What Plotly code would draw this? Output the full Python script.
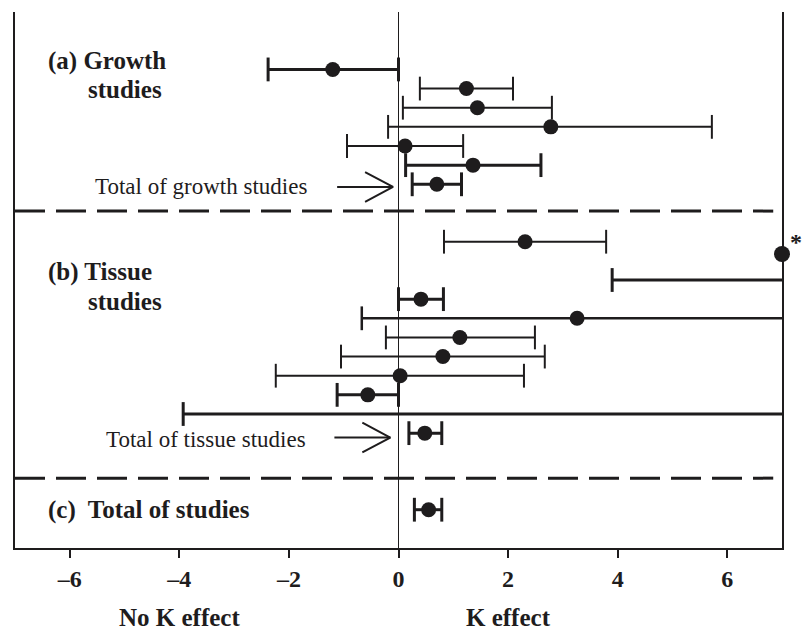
import plotly.graph_objects as go

# ---- data: point estimates with lower / upper confidence limits ----
# None as an upper limit means the interval runs past the right edge of the scale.
growth_rows = [0, 1, 2, 3, 4, 5]
growth_mean = [-1.20, 1.24, 1.44, 2.78, 0.12, 1.36]
growth_lo = [-2.38, 0.39, 0.08, -0.19, -0.94, 0.13]
growth_hi = [0.00, 2.09, 2.80, 5.72, 1.18, 2.60]
growth_width = [3, 2, 2, 2, 2, 3]

growth_total_row = [6]
growth_total_mean = [0.70]
growth_total_lo = [0.25]
growth_total_hi = [1.15]

tissue_rows = [9, 11, 12, 13, 14, 15, 16, 17, 18]
tissue_mean = [2.31, None, 0.41, 3.26, 1.12, 0.81, 0.03, -0.56, None]
tissue_lo = [0.83, 3.90, 0.00, -0.67, -0.23, -1.05, -2.24, -1.12, -3.93]
tissue_hi = [3.79, None, 0.82, None, 2.49, 2.67, 2.29, 0.00, None]
tissue_width = [2, 3, 3, 2.5, 2, 2, 2, 3, 3]

tissue_total_row = [19]
tissue_total_mean = [0.48]
tissue_total_lo = [0.19]
tissue_total_hi = [0.79]

# estimate beyond the scale, plotted on its edge and flagged with an asterisk
offscale_row = [9.64]
offscale_mean = [7.0]

all_total_row = [23]
all_total_mean = [0.55]
all_total_lo = [0.29]
all_total_hi = [0.79]

tick_vals = [-6, -4, -2, 0, 2, 4, 6]
tick_text = ["\u20136", "\u20134", "\u20132", "0", "2", "4", "6"]

X_MIN, X_MAX = -7, 7
INK = "#1e1c1d"
SERIF = "Liberation Serif"

fig = go.Figure()


def add_rows(rows, means, los, his, widths):
    for r, m, lo, hi, w in zip(rows, means, los, his, widths):
        end = X_MAX if hi is None else hi
        fig.add_trace(go.Scatter(
            x=[lo, end], y=[r, r], mode="lines",
            line=dict(color=INK, width=w), hoverinfo="skip", showlegend=False))
        caps = [lo] if hi is None else [lo, hi]
        fig.add_trace(go.Scatter(
            x=caps, y=[r] * len(caps), mode="markers",
            marker=dict(symbol="line-ns", size=17, line=dict(color=INK, width=w)),
            hoverinfo="skip", showlegend=False))
        if m is not None:
            fig.add_trace(go.Scatter(
                x=[m], y=[r], mode="markers",
                marker=dict(symbol="circle", size=15, color=INK),
                showlegend=False))


add_rows(growth_rows, growth_mean, growth_lo, growth_hi, growth_width)
add_rows(growth_total_row, growth_total_mean, growth_total_lo, growth_total_hi, [3])
add_rows(tissue_rows, tissue_mean, tissue_lo, tissue_hi, tissue_width)
add_rows(tissue_total_row, tissue_total_mean, tissue_total_lo, tissue_total_hi, [3])
add_rows(all_total_row, all_total_mean, all_total_lo, all_total_hi, [3])

fig.add_trace(go.Scatter(
    x=offscale_mean, y=offscale_row, mode="markers", cliponaxis=False,
    marker=dict(symbol="circle", size=16, color=INK), showlegend=False))


def add_arrow(tip_x, row, length=1.02):
    # open "V" arrow pointing right at the pooled estimate
    fig.add_trace(go.Scatter(
        x=[tip_x - length, tip_x, None, tip_x - 0.51, tip_x, tip_x - 0.51],
        y=[row, row, None, row - 0.78, row, row + 0.78],
        mode="lines", line=dict(color=INK, width=2),
        hoverinfo="skip", showlegend=False))


add_arrow(-0.10, growth_total_row[0] + 0.14)
add_arrow(-0.15, tissue_total_row[0] + 0.23)

# dashed separators between the panels
for sep in (7.4, 21.35):
    fig.add_shape(type="line", xref="x", yref="y", x0=X_MIN, x1=6.84, y0=sep, y1=sep,
                  line=dict(color=INK, width=3, dash="30px,11px"))

bold = dict(family=SERIF, size=25, color=INK)
plain = dict(family=SERIF, size=23, color=INK)


def label(text, x, y, font):
    fig.add_annotation(text=text, x=x, y=y, xref="x", yref="y",
                       xanchor="left", yanchor="middle", showarrow=False, font=font)


label("<b>(a) Growth</b>", -6.43, -0.45, bold)
label("<b>studies</b>", -5.70, 1.05, bold)
label("<b>(b) Tissue</b>", -6.43, 10.6, bold)
label("<b>studies</b>", -5.70, 12.1, bold)
label("<b>(c)  Total of studies</b>", -6.43, 23.0, bold)
label("Total of growth studies", -5.58, 6.1, plain)
label("Total of tissue studies", -5.38, 19.35, plain)

fig.add_annotation(text="<b>*</b>", x=X_MAX, y=offscale_row[0], xref="x", yref="y",
                   xshift=14, yshift=12, showarrow=False,
                   font=dict(family=SERIF, size=24, color=INK))

for txt, xv in (("<b>No K effect</b>", -4), ("<b>K effect</b>", 2)):
    fig.add_annotation(text=txt, x=xv, y=-0.13, xref="x", yref="paper",
                       xanchor="center", yanchor="middle", showarrow=False, font=bold)

fig.update_xaxes(
    range=[X_MIN, X_MAX], showgrid=False,
    zeroline=True, zerolinecolor=INK, zerolinewidth=1.3,
    showline=True, linecolor=INK, linewidth=2, mirror=False,
    ticks="outside", ticklen=8, tickwidth=1.5, tickcolor=INK,
    tickvals=tick_vals, ticktext=["<b>%s</b>" % t for t in tick_text],
    tickfont=dict(family=SERIF, size=24, color=INK),
)
fig.update_yaxes(
    range=[25, -3], showgrid=False, zeroline=False,
    showline=True, linecolor=INK, linewidth=2, mirror=True,
    ticks="", showticklabels=False,
)
fig.update_layout(
    width=803, height=631, autosize=False,
    margin=dict(l=15, r=21, t=12, b=83),
    plot_bgcolor="white", paper_bgcolor="white",
    showlegend=False,
)

fig.write_html("out.html")
